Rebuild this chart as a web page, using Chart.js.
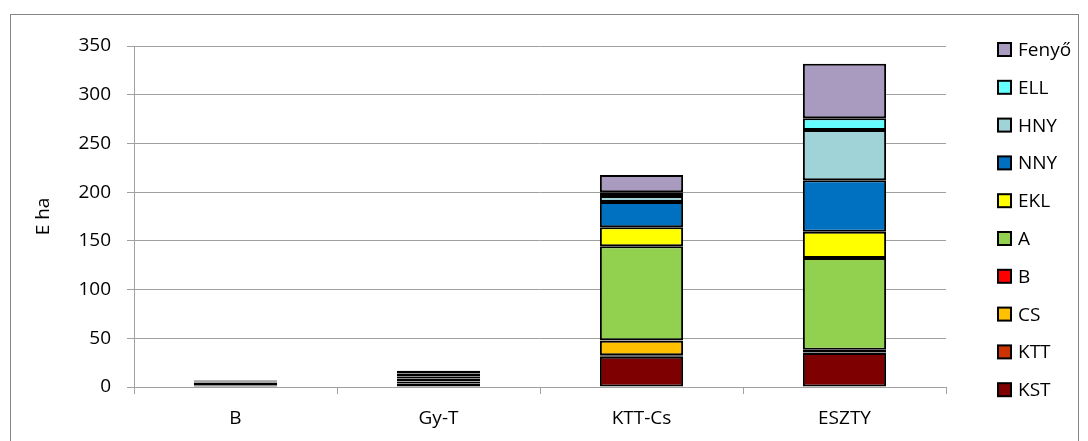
<!DOCTYPE html>
<html>
<head>
<meta charset="utf-8">
<script src="https://cdn.jsdelivr.net/npm/chart.js@4"></script>
<style>
  html, body { margin: 0; padding: 0; background: #fff; }
  #wrap { position: relative; width: 1088px; height: 441px; }
  #frame { position: absolute; left: 10px; top: 14px; width: 1069px; height: 440px;
           border: 1px solid #858585; box-sizing: border-box; pointer-events: none; }
</style>
</head>
<body>
<div id="wrap">
  <canvas id="c" width="1088" height="441"></canvas>
  <div id="frame"></div>
</div>
<script>
const CATS   = ['B', 'Gy-T', 'KTT-Cs', 'ESZTY'];
const KST    = [0.5, 3, 31, 35];
const KTT    = [0.5, 0.5, 1.5, 0.5];
const CS     = [0.5, 2, 15, 2.5];
const B      = [2.5, 0.3, 0.5, 0.3];
const A      = [0.5, 3, 96.5, 94];
const EKL    = [0.5, 2, 19.5, 27];
const NNY    = [0.5, 1.5, 26, 53];
const HNY    = [0.5, 1, 6, 51.5];
const ELL    = [0.5, 0.5, 4, 12];
const FENYO  = [0.5, 3, 17.5, 56];
const Y_TICKS = { min: 0, max: 350, step: 50 };

const FONT = "'Open Sans', 'DejaVu Sans', sans-serif";
const GRID = '#a0a0a0';

// sorrend alulról felfelé, mint a halmozott oszlopban
const series = [
  ['KST', KST, '#7f0000'],
  ['KTT', KTT, '#cc3300'],
  ['CS', CS, '#ffc000'],
  ['B', B, '#ff0000'],
  ['A', A, '#92d050'],
  ['EKL', EKL, '#ffff00'],
  ['NNY', NNY, '#0070c0'],
  ['HNY', HNY, '#a0d3d8'],
  ['ELL', ELL, '#66ffff'],
  ['Fenyő', FENYO, '#a99bbf']
];

// jelmagyarázat: fordított sorrend, jobb oldalon
const legendBoxes = {
  id: 'legendBoxes',
  afterDraw(chart) {
    const ctx = chart.ctx;
    const sets = chart.data.datasets.slice().reverse();
    ctx.save();
    ctx.font = '19px ' + FONT;
    ctx.textBaseline = 'middle';
    sets.forEach((ds, i) => {
      const y = 49.5 + i * 37.8;
      ctx.fillStyle = ds.backgroundColor;
      ctx.fillRect(998, y - 6.5, 13, 13);
      ctx.strokeStyle = '#000';
      ctx.lineWidth = 2;
      ctx.strokeRect(998, y - 6.5, 13, 13);
      ctx.fillStyle = '#000';
      ctx.fillText(ds.label, 1018, y + 1);
    });
    ctx.restore();
  }
};

new Chart(document.getElementById('c'), {
  type: 'bar',
  data: {
    labels: CATS,
    datasets: series.map(([label, data, color]) => ({
      label, data,
      backgroundColor: color,
      borderColor: '#000',
      borderWidth: 2,
      borderSkipped: false,
      categoryPercentage: 1,
      barPercentage: 0.41
    }))
  },
  options: {
    responsive: false,
    animation: false,
    layout: { padding: { left: 0, right: 142, top: 46, bottom: 0 } },
    plugins: { legend: { display: false }, tooltip: { enabled: false } },
    scales: {
      x: {
        stacked: true,
        grid: { offset: true, drawOnChartArea: false, color: GRID, tickLength: 7 },
        border: { color: GRID },
        ticks: { color: '#000', font: { family: FONT, size: 19 }, padding: 13 },
        afterFit: s => { s.height = 54; }
      },
      y: {
        stacked: true,
        min: Y_TICKS.min, max: Y_TICKS.max,
        grid: { color: GRID, tickLength: 7 },
        border: { color: GRID },
        ticks: { stepSize: Y_TICKS.step, color: '#000', font: { family: FONT, size: 19 }, padding: 16 },
        title: { display: true, text: 'E ha', color: '#000', font: { family: FONT, size: 19 }, padding: { top: 32, bottom: 0 } },
        afterFit: s => { s.width = 134; }
      }
    }
  },
  plugins: [legendBoxes]
});
</script>
</body>
</html>
